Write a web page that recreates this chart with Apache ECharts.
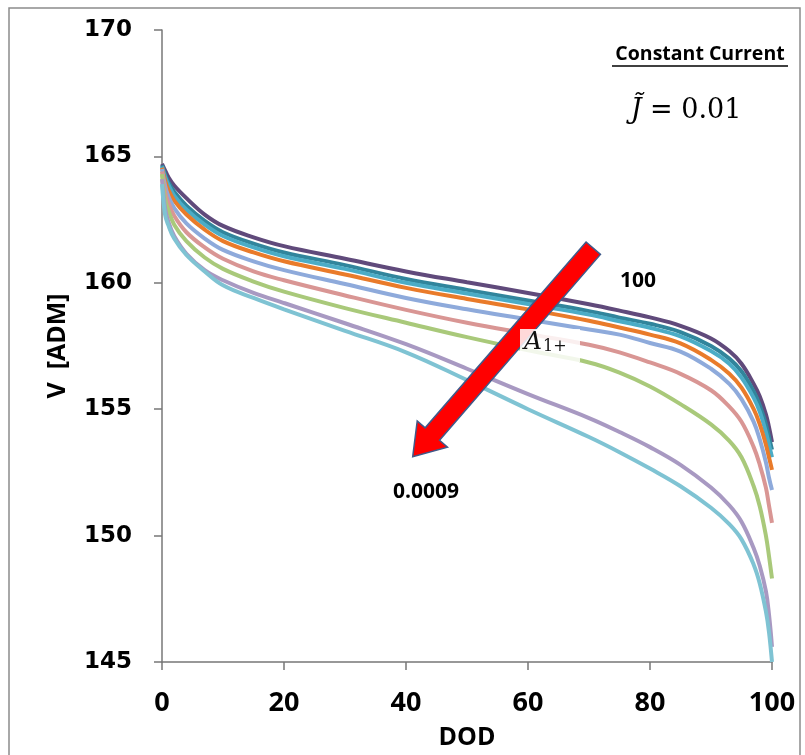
<!DOCTYPE html>
<html>
<head>
<meta charset="utf-8">
<script src="https://cdn.jsdelivr.net/npm/echarts@6/dist/echarts.min.js"></script>
<style>
html,body{margin:0;padding:0;background:#fff;}
#chart{width:805px;height:755px;}
</style>
</head>
<body>
<div id="chart"></div>
<script>
// DOD sample points (shared x values)
var dod = [0, 0.5, 1, 2, 4, 7, 10, 15, 20, 30, 40, 50, 60, 70, 75, 80, 85, 90, 93, 95, 97, 98, 99, 99.5, 100];

// Voltage curves, from A1+ = 100 (top) down to A1+ = 0.0009 (bottom)
var v1 = [164.7,164.45,164.2,163.85,163.35,162.7,162.25,161.8,161.45,160.95,160.45,160.02,159.6,159.15,158.9,158.63,158.3,157.8,157.3,156.8,156.0,155.5,154.8,154.3,153.7];
var v2 = [164.65,164.3,164.0,163.6,163.05,162.45,162.0,161.55,161.2,160.7,160.15,159.72,159.3,158.88,158.62,158.38,158.05,157.5,157.0,156.5,155.7,155.15,154.4,153.9,153.4];
var v3 = [164.6,164.2,163.9,163.45,162.9,162.3,161.85,161.4,161.05,160.55,160.0,159.58,159.16,158.74,158.48,158.22,157.88,157.3,156.8,156.25,155.45,154.9,154.1,153.6,153.1];
var v4 = [164.55,164.05,163.7,163.25,162.7,162.1,161.65,161.2,160.85,160.33,159.8,159.36,158.95,158.5,158.23,157.95,157.6,156.95,156.4,155.85,155.0,154.4,153.6,153.1,152.6];
var v5 = [164.5,163.85,163.45,162.95,162.35,161.75,161.3,160.85,160.5,159.95,159.4,158.95,158.55,158.15,157.95,157.62,157.28,156.6,156.0,155.4,154.5,153.8,152.9,152.3,151.8];
var v6 = [164.4,163.6,163.2,162.65,162.0,161.4,160.95,160.45,160.1,159.5,158.93,158.42,157.98,157.55,157.25,156.85,156.4,155.75,155.1,154.5,153.5,152.8,151.9,151.2,150.5];
var v7 = [164.3,163.3,162.9,162.3,161.65,161.0,160.55,160.05,159.65,159.0,158.42,157.85,157.33,156.85,156.45,155.9,155.2,154.4,153.75,153.1,151.95,151.15,150.0,149.2,148.3];
var v8 = [164.1,162.95,162.45,161.85,161.15,160.5,160.1,159.6,159.2,158.4,157.57,156.6,155.6,154.65,154.1,153.5,152.8,151.9,151.2,150.55,149.5,148.8,147.8,146.9,145.6];
var v9 = [163.9,162.7,162.3,161.75,161.1,160.45,159.9,159.4,158.95,158.1,157.25,156.15,155.0,153.9,153.3,152.65,151.95,151.1,150.45,149.85,148.85,148.1,147.0,146.2,145.0];

var curves = [v1, v2, v3, v4, v5, v6, v7, v8, v9];
var colors = ['#604A7B', '#31859C', '#4BACC6', '#E97B2A', '#8EAADB', '#D99694', '#A9C97A', '#A899C2', '#7FC3D3'];

// Tick labels
var xTicks = [0, 20, 40, 60, 80, 100];
var yTicks = [145, 150, 155, 160, 165, 170];

// Arrow end points in data coordinates (annotation)
var arrowTail = [70.7, 161.37];
var arrowTip = [41.1, 153.12];

var chart = echarts.init(document.getElementById('chart'), null, {renderer: 'canvas'});

var series = curves.map(function (vals, i) {
  return {
    type: 'line',
    data: dod.map(function (d, k) { return [d, vals[k]]; }),
    showSymbol: false,
    smooth: 0.4,
    lineStyle: { color: colors[i], width: 4 },
    silent: true,
    z: 2
  };
});

var axisFontX = { fontFamily: 'Open Sans', fontWeight: 'bold', fontSize: 27, color: '#000' };
var axisFontY = { fontFamily: 'DejaVu Sans', fontWeight: 'bold', fontSize: 23, color: '#000' };

var option = {
  animation: false,
  backgroundColor: '#fff',
  grid: { left: 162, right: 33, top: 30, bottom: 88 },
  xAxis: {
    type: 'value', min: xTicks[0], max: xTicks[xTicks.length - 1], interval: 20,
    name: 'DOD', nameLocation: 'middle', nameGap: 63,
    nameTextStyle: { fontFamily: 'Open Sans', fontWeight: 'bold', fontSize: 25, color: '#000' },
    axisLine: { lineStyle: { color: '#777', width: 1.5 } },
    axisTick: { show: true, inside: false, length: 8, lineStyle: { color: '#777', width: 1.5 } },
    axisLabel: Object.assign({ margin: 28 }, axisFontX),
    splitLine: { show: false }
  },
  yAxis: {
    type: 'value', min: yTicks[0], max: yTicks[yTicks.length - 1], interval: 5,
    name: 'V  [ADM]', nameLocation: 'middle', nameGap: 92, nameRotate: 90,
    nameTextStyle: { fontFamily: 'Open Sans', fontWeight: 'bold', fontSize: 25, color: '#000' },
    axisLine: { show: true, lineStyle: { color: '#777', width: 1.5 } },
    axisTick: { show: true, inside: false, length: 8, lineStyle: { color: '#777', width: 1.5 } },
    axisLabel: Object.assign({ margin: 30 }, axisFontY),
    splitLine: { show: false }
  },
  series: series
};
chart.setOption(option);

// Build arrow and annotations
var T = chart.convertToPixel({ gridIndex: 0 }, arrowTail);
var H = chart.convertToPixel({ gridIndex: 0 }, arrowTip);
var dx = H[0] - T[0], dy = H[1] - T[1];
var L = Math.sqrt(dx * dx + dy * dy);
var ux = dx / L, uy = dy / L;
var nx = -uy, ny = ux;
var w = 9.5, hw = 20, hl = 30;
var B = [H[0] - ux * hl, H[1] - uy * hl];
var pts = [
  [T[0] + nx * w, T[1] + ny * w],
  [B[0] + nx * w, B[1] + ny * w],
  [B[0] + nx * hw, B[1] + ny * hw],
  [H[0], H[1]],
  [B[0] - nx * hw, B[1] - ny * hw],
  [B[0] - nx * w, B[1] - ny * w],
  [T[0] - nx * w, T[1] - ny * w]
];

chart.setOption({
  graphic: [
    { type: 'rect', shape: { x: 9, y: 8, width: 791, height: 780 }, style: { fill: 'none', stroke: '#8c8c8c', lineWidth: 1.5 }, z: 0, silent: true },
    { type: 'polygon', shape: { points: pts }, style: { fill: '#FF0000', stroke: '#3F5A8A', lineWidth: 1.5 }, z: 10 },
    { type: 'rect', shape: { x: 520, y: 329, width: 60, height: 33 }, style: { fill: 'rgba(255,255,255,0.85)' }, z: 11 },
    { type: 'text', x: 524, y: 329, z: 12, style: {
        text: '{a|A}{s|1+}', rich: {
          a: { fontFamily: 'DejaVu Serif', fontStyle: 'italic', fontSize: 25, fill: '#111' },
          s: { fontFamily: 'DejaVu Serif', fontSize: 16, fill: '#111', padding: [10, 0, 0, 1] }
        } } },
    { type: 'text', x: 700, y: 54, z: 12, style: { text: 'Constant Current', fontFamily: 'Open Sans', fontWeight: 'bold', fontSize: 19.5, fill: '#000', align: 'center', verticalAlign: 'middle' } },
    { type: 'line', shape: { x1: 612, y1: 66, x2: 788, y2: 66 }, style: { stroke: '#000', lineWidth: 1.5 }, z: 12 },
    { type: 'text', x: 686, y: 111, z: 12, style: {
        text: '{j|J\u0303} = 0.01', align: 'center', verticalAlign: 'middle', rich: {
          j: { fontFamily: 'DejaVu Serif', fontStyle: 'italic', fontSize: 27, fill: '#000' }
        }, fontFamily: 'DejaVu Serif', fontSize: 27, fill: '#000' } },
    { type: 'text', x: 638, y: 281, z: 12, style: { text: '100', fontFamily: 'Open Sans', fontWeight: 'bold', fontSize: 21, fill: '#000', align: 'center', verticalAlign: 'middle' } },
    { type: 'text', x: 426, y: 492, z: 12, style: { text: '0.0009', fontFamily: 'Open Sans', fontWeight: 'bold', fontSize: 21, fill: '#000', align: 'center', verticalAlign: 'middle' } }
  ]
});
</script>
</body>
</html>
